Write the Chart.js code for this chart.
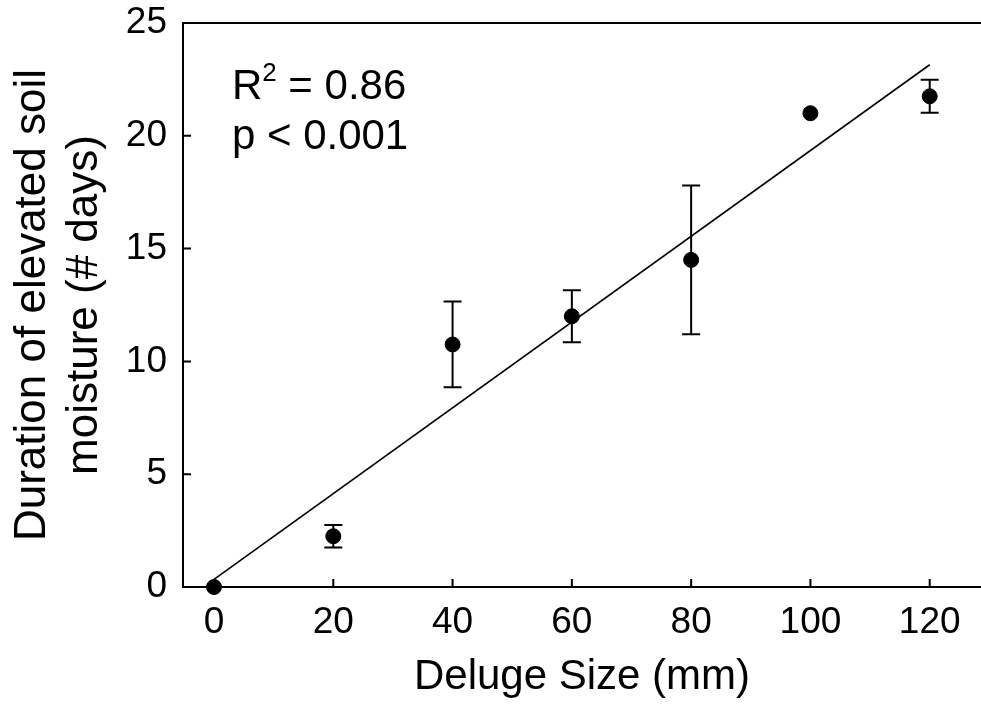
<!DOCTYPE html>
<html lang="en">
<head>
<meta charset="UTF-8">
<title>Deluge size vs soil moisture duration</title>
<script src="https://cdn.jsdelivr.net/npm/chart.js"></script>
<style>
    body { margin: 0; background: #fff; }
    canvas { display: block; }
</style>
</head>
<body>
<canvas id="chart" width="981" height="710"></canvas>
<script>
// values
const delugeSize = [0, 20, 40, 60, 80, 100, 120];
const durationDays = [0, 2.25, 10.75, 12, 14.5, 21, 21.75];
const errorDays = [0, 0.5, 1.9, 1.15, 3.3, 0, 0.73];
const fitX = [0, 120];
const fitY = [0.34, 23.15];
const xTickValues = [0, 20, 40, 60, 80, 100, 120];
const yTickValues = [0, 5, 10, 15, 20, 25];
const statsLines = ['R2 = 0.86', 'p < 0.001'];

const FONT = "'Liberation Sans', Arial, sans-serif";

// error bars, inward tick marks and top frame line
const extras = {
    id: 'extras',
    beforeDatasetsDraw(chart) {
        const { ctx, chartArea, scales: { x, y } } = chart;
        ctx.save();
        ctx.strokeStyle = '#000';
        ctx.lineWidth = 2;
        ctx.beginPath();
        ctx.moveTo(chartArea.left, chartArea.top);
        ctx.lineTo(chartArea.right, chartArea.top);
        x.ticks.forEach(t => {
            const px = x.getPixelForValue(t.value);
            ctx.moveTo(px, chartArea.bottom);
            ctx.lineTo(px, chartArea.bottom - 8);
        });
        y.ticks.forEach(t => {
            const py = y.getPixelForValue(t.value);
            ctx.moveTo(chartArea.left, py);
            ctx.lineTo(chartArea.left + 8, py);
        });
        ctx.stroke();

        ctx.beginPath();
        delugeSize.forEach((d, i) => {
            const e = errorDays[i];
            if (!e) return;
            const px = x.getPixelForValue(d);
            const top = y.getPixelForValue(durationDays[i] + e);
            const bot = y.getPixelForValue(durationDays[i] - e);
            ctx.moveTo(px, top); ctx.lineTo(px, bot);
            ctx.moveTo(px - 9, top); ctx.lineTo(px + 9, top);
            ctx.moveTo(px - 9, bot); ctx.lineTo(px + 9, bot);
        });
        ctx.stroke();
        ctx.restore();
    },
    afterDatasetsDraw(chart) {
        const { ctx, scales: { x, y } } = chart;
        ctx.save();
        ctx.fillStyle = '#000';
        ctx.textBaseline = 'alphabetic';
        ctx.textAlign = 'left';
        let px = x.getPixelForValue(3);
        const py1 = y.getPixelForValue(21.65);
        const py2 = y.getPixelForValue(19.42);
        ctx.font = '42px ' + FONT;
        ctx.fillText('R', px, py1);
        px += ctx.measureText('R').width;
        ctx.font = '26px ' + FONT;
        ctx.fillText('2', px, py1 - 18);
        px += ctx.measureText('2').width;
        ctx.font = '42px ' + FONT;
        ctx.fillText(statsLines[0].slice(2), px, py1);
        ctx.fillText(statsLines[1], x.getPixelForValue(3), py2);
        ctx.restore();
    }
};

new Chart(document.getElementById('chart'), {
    type: 'scatter',
    data: {
        datasets: [{
            label: 'fit',
            type: 'line',
            data: fitX.map((v, i) => ({ x: v, y: fitY[i] })),
            borderColor: '#000',
            borderWidth: 1.6,
            pointRadius: 0,
            fill: false
        }, {
            label: 'duration',
            data: delugeSize.map((v, i) => ({ x: v, y: durationDays[i] })),
            backgroundColor: '#000',
            borderColor: '#000',
            pointRadius: 7.5,
            pointHoverRadius: 7.5,
            clip: false
        }]
    },
    options: {
        responsive: false,
        animation: false,
        layout: { autoPadding: false, padding: { top: 23, right: 0, left: 0, bottom: 0 } },
        plugins: { legend: { display: false }, tooltip: { enabled: false } },
        scales: {
            x: {
                type: 'linear',
                min: -5.2,
                max: 128.6,
                afterBuildTicks: s => { s.ticks = xTickValues.map(v => ({ value: v })); },
                afterFit: s => { s.height = 123; s.paddingLeft = 0; s.paddingRight = 0; },
                grid: { display: false, drawTicks: false },
                border: { display: true, color: '#000', width: 2 },
                ticks: { color: '#000', padding: 14, font: { size: 37, family: FONT }, maxRotation: 0 },
                title: {
                    display: true,
                    text: 'Deluge Size (mm)',
                    color: '#000',
                    font: { size: 42, family: FONT, lineHeight: 1.2 },
                    padding: { top: 0, bottom: 7 }
                }
            },
            y: {
                type: 'linear',
                min: 0,
                max: 25,
                afterBuildTicks: s => { s.ticks = yTickValues.map(v => ({ value: v })); },
                afterFit: s => { s.width = 183; s.paddingTop = 0; s.paddingBottom = 0; },
                grid: { display: false, drawTicks: false },
                border: { display: true, color: '#000', width: 2 },
                ticks: { color: '#000', padding: 16, font: { size: 37, family: FONT } },
                title: {
                    display: true,
                    text: ['Duration of elevated soil', 'moisture (# days)'],
                    color: '#000',
                    font: { size: 44, family: FONT, lineHeight: 1.2 },
                    padding: { top: 6, bottom: 0 }
                }
            }
        }
    },
    plugins: [extras]
});
</script>
</body>
</html>
